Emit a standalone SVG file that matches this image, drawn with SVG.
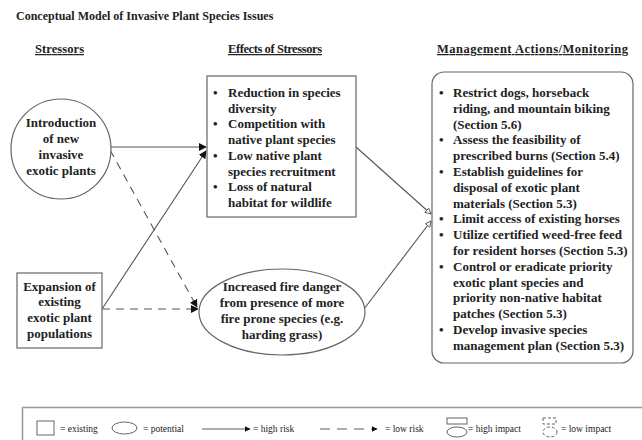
<svg xmlns="http://www.w3.org/2000/svg" width="642" height="440" viewBox="0 0 642 440">
<style>
text{font-family:"Liberation Serif","Times New Roman",serif;fill:#222}
.b{font-weight:bold}
.t{font-size:12px}
.h{font-size:12.5px;text-decoration:underline}
.n{font-size:13px}
.c{text-anchor:middle}
.lg{font-size:9.5px}
.shape{fill:#fff;stroke:#666;stroke-width:1.2}
.ln{fill:none;stroke:#555;stroke-width:1.1}
.dash{stroke-dasharray:8,6}
</style>
<defs>
<marker id="ah" viewBox="0 0 10 10" refX="9" refY="5" markerWidth="8" markerHeight="8" markerUnits="userSpaceOnUse" orient="auto">
<path d="M0,0 L10,5 L0,10 z" fill="#111"/>
</marker>
<marker id="as" viewBox="0 0 10 10" refX="9" refY="5" markerWidth="6" markerHeight="6" markerUnits="userSpaceOnUse" orient="auto">
<path d="M0,0 L10,5 L0,10 z" fill="#111"/>
</marker>
<marker id="ao" viewBox="0 0 10 10" refX="9" refY="5" markerWidth="7" markerHeight="7" markerUnits="userSpaceOnUse" orient="auto">
<path d="M1,1 L9,5 L1,9 z" fill="#fff" stroke="#555" stroke-width="1.3"/>
</marker>
</defs>
<rect width="642" height="440" fill="#fff"/>
<text class="b t" x="16" y="20">Conceptual Model of Invasive Plant Species Issues</text>
<text class="b h" x="35" y="53" textLength="49">Stressors</text>
<text class="b h" x="228" y="53" textLength="94">Effects of Stressors</text>
<text class="b h" x="437" y="53" textLength="191">Management Actions/Monitoring</text>

<g id="connectors">
<line class="ln" x1="111" y1="147" x2="206" y2="147" marker-end="url(#ah)"/>
<line class="ln" x1="102" y1="309" x2="206" y2="151" marker-end="url(#ah)"/>
<line class="ln dash" x1="110" y1="150" x2="197" y2="307" marker-end="url(#ah)"/>
<line class="ln dash" x1="102" y1="309" x2="198" y2="309" marker-end="url(#ah)"/>
<line class="ln" x1="356" y1="147" x2="431" y2="214" marker-end="url(#ao)"/>
<line class="ln" x1="364" y1="309" x2="431" y2="221" marker-end="url(#ao)"/>
</g>

<g id="introduction">
<circle class="shape" cx="61" cy="149" r="50"/>
<text class="b n c"><tspan x="61" y="127">Introduction</tspan><tspan x="61" y="143">of new</tspan><tspan x="61" y="159">invasive</tspan><tspan x="61" y="175">exotic plants</tspan></text>
</g>

<g id="expansion">
<rect class="shape" x="17" y="273" width="85" height="75"/>
<text class="b n c"><tspan x="59.5" y="291">Expansion of</tspan><tspan x="59.5" y="306">existing</tspan><tspan x="59.5" y="322">exotic plant</tspan><tspan x="59.5" y="338">populations</tspan></text>
</g>

<g id="effects">
<rect class="shape" x="207" y="76" width="149" height="141"/>
<text class="b n">
<tspan x="213" y="97">•</tspan><tspan x="228" y="97">Reduction in species</tspan>
<tspan x="228" y="112.7">diversity</tspan>
<tspan x="213" y="128.4">•</tspan><tspan x="228" y="128.4">Competition with</tspan>
<tspan x="228" y="144.1">native plant species</tspan>
<tspan x="213" y="159.8">•</tspan><tspan x="228" y="159.8">Low native plant</tspan>
<tspan x="228" y="175.5">species recruitment</tspan>
<tspan x="213" y="191.2">•</tspan><tspan x="228" y="191.2">Loss of natural</tspan>
<tspan x="228" y="206.9">habitat for wildlife</tspan>
</text>
</g>

<g id="fire">
<ellipse class="shape" cx="282" cy="312" rx="83" ry="43"/>
<text class="b n c"><tspan x="282" y="291">Increased fire danger</tspan><tspan x="282" y="307">from presence of more</tspan><tspan x="282" y="323">fire prone species (e.g.</tspan><tspan x="282" y="339">harding grass)</tspan></text>
</g>

<g id="management">
<rect class="shape" x="432" y="72" width="201" height="291" rx="12"/>
<text class="b n">
<tspan x="439" y="97">•</tspan><tspan x="453" y="97">Restrict dogs, horseback</tspan>
<tspan x="453" y="112.8">riding, and mountain biking</tspan>
<tspan x="453" y="128.6">(Section 5.6)</tspan>
<tspan x="439" y="144.4">•</tspan><tspan x="453" y="144.4">Assess the feasibility of</tspan>
<tspan x="453" y="160.2">prescribed burns (Section 5.4)</tspan>
<tspan x="439" y="176">•</tspan><tspan x="453" y="176">Establish guidelines for</tspan>
<tspan x="453" y="191.8">disposal of exotic plant</tspan>
<tspan x="453" y="207.6">materials (Section 5.3)</tspan>
<tspan x="439" y="223.4">•</tspan><tspan x="453" y="223.4">Limit access of existing horses</tspan>
<tspan x="439" y="239.2">•</tspan><tspan x="453" y="239.2">Utilize certified weed-free feed</tspan>
<tspan x="453" y="255">for resident horses (Section 5.3)</tspan>
<tspan x="439" y="270.8">•</tspan><tspan x="453" y="270.8">Control or eradicate priority</tspan>
<tspan x="453" y="286.6">exotic plant species and</tspan>
<tspan x="453" y="302.4">priority non-native habitat</tspan>
<tspan x="453" y="318.2">patches (Section 5.3)</tspan>
<tspan x="439" y="334">•</tspan><tspan x="453" y="334">Develop invasive species</tspan>
<tspan x="453" y="349.8">management plan (Section 5.3)</tspan>
</text>
</g>

<g id="legend">
<rect x="22.5" y="407.5" width="640" height="60" fill="#fff" stroke="#999" stroke-width="1.5"/>
<rect x="37" y="421" width="17" height="14" fill="#fff" stroke="#666"/>
<text class="lg" x="60" y="432">= existing</text>
<ellipse cx="124.5" cy="428" rx="12.5" ry="6" fill="#fff" stroke="#666"/>
<text class="lg" x="143" y="432">= potential</text>
<line x1="202" y1="429" x2="250" y2="429" stroke="#333" stroke-width="0.8" marker-end="url(#as)"/>
<text class="lg" x="253" y="432">= high risk</text>
<line x1="320" y1="429" x2="377" y2="429" stroke="#333" stroke-width="0.8" stroke-dasharray="10,7" marker-end="url(#as)"/>
<text class="lg" x="385" y="432">= low risk</text>
<rect x="447" y="418" width="20" height="6" fill="#fff" stroke="#666"/>
<ellipse cx="457" cy="432" rx="10" ry="5" fill="#fff" stroke="#666"/>
<text class="lg" x="468" y="432">= high impact</text>
<rect x="543" y="418" width="13" height="6" fill="none" stroke="#666" stroke-dasharray="3,2"/>
<ellipse cx="550" cy="432" rx="7" ry="5" fill="none" stroke="#666" stroke-dasharray="3,2"/>
<text class="lg" x="561" y="432">= low impact</text>
</g>
</svg>
